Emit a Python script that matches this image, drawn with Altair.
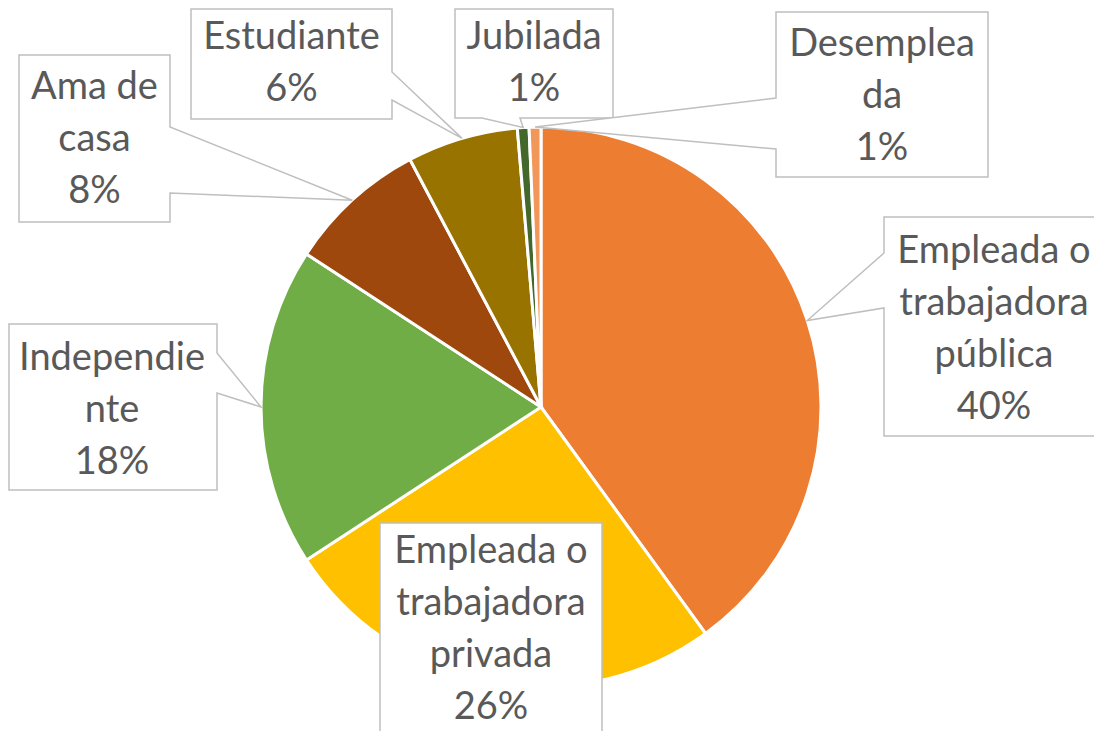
import math
import altair as alt
import pandas as pd

# ---- data ----
categories = ["Empleada o trabajadora pública", "Empleada o trabajadora privada",
              "Independiente", "Ama de casa", "Estudiante", "Jubilada", "Desempleada"]
values = [40.0, 25.8, 18.4, 8.05, 6.4, 0.67, 0.68]
wrapped_names = ["Empleada o\ntrabajadora\npública", "Empleada o\ntrabajadora\nprivada",
                 "Independie\nnte", "Ama de\ncasa", "Estudiante", "Jubilada", "Desemplea\nda"]
colors = ["#ED7D31", "#FFC000", "#70AD47", "#9E480E", "#997300", "#43682B", "#F1975A"]

# ---- layout (callout boxes, page pixels) ----
OFF = 8
LINE_H = 52
CX, CY, R = 541 - OFF, 407 - OFF, 280
box_l = [884, 380, 9, 19, 191, 455, 776]
box_t = [217, 523, 324, 55, 9, 9, 12]
box_r = [1104, 602, 217, 170, 392, 613, 988]
box_b = [436, 755, 490, 222, 119, 118, 177]
wedge_side = ["left", None, "right", "right", "right", "bottom", "left"]
wedge_a = [253, 0, 353, 127, 72, 482, 98]
wedge_b = [308, 0, 393, 193, 100, 520, 149]
text_x = [994, 491, 112, 94.5, 291.5, 534, 882]
text_y = [330, 630, 411, 140, 64, 64, 97]

total = sum(values)
pie_df = pd.DataFrame({"cat": categories, "value": values, "idx": list(range(len(values)))})

# callout polygons, tip at the slice's mid-angle on the rim
features = []
cum = 0.0
for i, v in enumerate(values):
    mid = (cum + v / 2) / total * 2 * math.pi
    cum += v
    tx, ty = CX + R * math.sin(mid), CY - R * math.cos(mid)
    l, t, r, b = (box_l[i] - OFF, box_t[i] - OFF, box_r[i] - OFF, box_b[i] - OFF)
    a, bb = wedge_a[i] - OFF, wedge_b[i] - OFF
    s = wedge_side[i]
    if s == "right":
        pts = [[l, t], [r, t], [r, a], [tx, ty], [r, bb], [r, b], [l, b], [l, t]]
    elif s == "left":
        pts = [[l, t], [r, t], [r, b], [l, b], [l, bb], [tx, ty], [l, a], [l, t]]
    elif s == "bottom":
        pts = [[l, t], [r, t], [r, b], [bb, b], [tx, ty], [a, b], [l, b], [l, t]]
    else:
        pts = [[l, t], [r, t], [r, b], [l, b], [l, t]]
    features.append({"type": "Feature", "properties": {"cat": categories[i]},
                     "geometry": {"type": "Polygon", "coordinates": [pts]}})

labels_txt = [f"{n}\n{round(v / total * 100):.0f}%" for n, v in zip(wrapped_names, values)]
label_df = pd.DataFrame({
    "cat": categories,
    "label": labels_txt,
    "px": [x - OFF for x in text_x],
    "py": [y - OFF - (lab.count("\n")) * LINE_H / 2 for y, lab in zip(text_y, labels_txt)],
})

pie = alt.Chart(pie_df).mark_arc(outerRadius=R, stroke="white", strokeWidth=3).encode(
    theta=alt.Theta("value:Q", stack=True),
    color=alt.Color("cat:N", scale=alt.Scale(domain=categories, range=colors), legend=None),
    order=alt.Order("idx:Q"),
    x=alt.value(CX),
    y=alt.value(CY),
)

callouts = alt.Chart(alt.Data(values=features)).mark_geoshape(
    fill="white", stroke="#BFBFBF", strokeWidth=1.5
).project(type="identity", scale=1, translate=[0, 0])

labels = alt.Chart(label_df).mark_text(
    font="Lato", fontSize=38, color="#595959", align="center", baseline="middle",
    lineBreak="\n", lineHeight=LINE_H
).encode(
    x=alt.X("px:Q", scale=None, axis=None),
    y=alt.Y("py:Q", scale=None, axis=None),
    text="label:N",
)

chart = alt.layer(pie, callouts, labels).properties(
    width=1086, height=723, padding=0, autosize="none", background="white"
).configure_view(stroke=None)

chart.save("out.html", embed_options={"renderer": "svg", "actions": False})
